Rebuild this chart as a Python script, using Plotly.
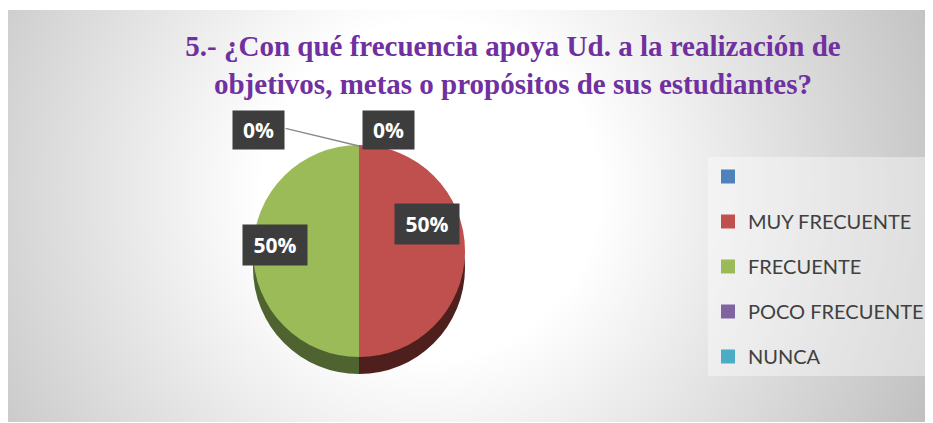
import base64
import plotly.graph_objects as go

# ---- data ----
categories = ["", "MUY FRECUENTE", "FRECUENTE", "POCO FRECUENTE", "NUNCA"]
values = [None, 50, 50, 0, 0]
colors = ["#4F81BD", "#C0504D", "#9BBB59", "#8064A2", "#4BACC6"]
side_colors = ["#2f4d71", "#4f1f1e", "#4f6330", "#4c3c61", "#2d6776"]
title_text = "5.- ¿Con qué frecuencia apoya Ud. a la realización de<br>objetivos, metas o propósitos de sus estudiantes?"

OFF = 8  # browser body margin
W, H = 933 - OFF, 423 - OFF

def px(x):
    return (x - OFF) / W

def py(y):
    return 1 - (y - OFF) / H

pie_vals = [v if v is not None else 0 for v in values]
total = sum(pie_vals)
pct = [f"{round(v / total * 100)}%" if v is not None else "" for v in values]

fig = go.Figure()

# 3D side (depth) of the pie
d = 212
cx, cy = 359, 251
depth = 17
fig.add_trace(go.Pie(
    labels=categories, values=pie_vals, sort=False, direction="clockwise", rotation=0,
    marker=dict(colors=side_colors, line=dict(width=0)),
    textinfo="none", hoverinfo="skip", showlegend=False,
    domain=dict(x=[px(cx - d / 2), px(cx + d / 2)], y=[py(cy + depth + d / 2), py(cy + depth - d / 2)]),
))
# top face
fig.add_trace(go.Pie(
    labels=categories, values=pie_vals, sort=False, direction="clockwise", rotation=0,
    marker=dict(colors=colors, line=dict(width=0)),
    textinfo="none", showlegend=False,
    domain=dict(x=[px(cx - d / 2), px(cx + d / 2)], y=[py(cy + d / 2), py(cy - d / 2)]),
))

# legend entries
for i, (c, col) in enumerate(zip(categories, colors)):
    fig.add_trace(go.Scatter(
        x=[None], y=[None], mode="markers", name=c if c else " ",
        marker=dict(symbol="square", size=14, color=col),
        legendgroup=f"g{i}", showlegend=True,
    ))

# leader line for left 0% label
top_y = cy - d / 2 + 1
fig.add_annotation(
    x=px(cx), y=py(top_y), xref="paper", yref="paper",
    ax=284 - cx, ay=128 - top_y,
    text="", showarrow=True, arrowhead=0, arrowwidth=1.5, arrowcolor="#8a8a8a",
)

# data labels
label_pos = {1: (427, 224), 2: (275, 245), 3: (388, 130), 4: (258, 130)}
for i, (lx, ly) in label_pos.items():
    small = values[i] == 0
    fig.add_annotation(
        x=px(lx), y=py(ly), xref="paper", yref="paper",
        text=f"<b>{pct[i]}</b>", showarrow=False,
        font=dict(family="Open Sans", size=21, color="white"),
        bgcolor="#3d3d3d", width=47 if small else 60, height=34 if small else 36,
        borderpad=2, xanchor="center", yanchor="middle",
    )

svg = '''<svg xmlns="http://www.w3.org/2000/svg" width="926" height="412" viewBox="0 0 926 412">
<defs><radialGradient id="g" gradientUnits="userSpaceOnUse" cx="423" cy="180" r="560">
<stop offset="0" stop-color="#ffffff"/><stop offset="0.3" stop-color="#ffffff"/><stop offset="1" stop-color="#bebebe"/>
</radialGradient></defs><rect width="926" height="412" fill="url(#g)"/></svg>'''
src = "data:image/svg+xml;base64," + base64.b64encode(svg.encode()).decode()

fig.update_layout(
    width=W, height=H,
    margin=dict(l=0, r=0, t=0, b=0),
    paper_bgcolor="white", plot_bgcolor="rgba(0,0,0,0)",
    xaxis=dict(visible=False), yaxis=dict(visible=False),
    images=[dict(source=src, xref="paper", yref="paper", x=px(7), y=py(10),
                 sizex=926 / W, sizey=412 / H, sizing="stretch", layer="below")],
    title=dict(text=f"<b>{title_text}</b>", x=px(513), xanchor="center", y=py(56), yanchor="middle",
               font=dict(family="Liberation Serif", size=29, color="#7030A0")),
    legend=dict(x=px(708), y=py(157), xanchor="left", yanchor="top",
                bgcolor="rgba(255,255,255,0.4)", borderwidth=0,
                font=dict(family="Lato", size=20, color="#404040"),
                tracegroupgap=16, traceorder="grouped", entrywidth=180,
                itemclick=False),
)

fig.write_html("out.html")
